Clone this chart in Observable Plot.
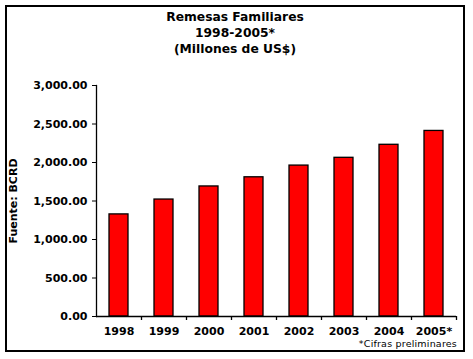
<!DOCTYPE html>
<html>
<head>
<meta charset="utf-8">
<script src="https://cdn.jsdelivr.net/npm/d3@7"></script>
<script src="https://cdn.jsdelivr.net/npm/@observablehq/plot@0.6"></script>
<style>
  html, body { margin: 0; padding: 0; background: #fff; }
  #wrap { position: relative; width: 473px; height: 359px; overflow: hidden; font-family: "DejaVu Sans", Verdana, sans-serif; }
  #frame { position: absolute; left: 5px; top: 5px; width: 456px; height: 343px; border: 2px solid #000; }
  #title { position: absolute; left: 5px; width: 460px; top: 9px; text-align: center; font-weight: bold; font-size: 12.3px; line-height: 16px; color: #000; }
  #note { position: absolute; right: 16px; top: 338px; font-size: 9.5px; color: #000; letter-spacing: 0.2px; }
  #chart { position: absolute; left: 0; top: 0; }
</style>
</head>
<body>
<div id="wrap">
  <div id="frame"></div>
  <div id="title"></div>
  <div id="note"></div>
  <div id="chart"></div>
</div>
<script>
const titleLines = ["Remesas Familiares", "1998-2005*", "(Millones de US$)"];
const years = ["1998", "1999", "2000", "2001", "2002", "2003", "2004", "2005*"];
const values = [1326, 1519, 1689, 1808, 1960, 2061, 2230, 2410];
const yTicks = [0, 500, 1000, 1500, 2000, 2500, 3000];
const yLabel = "Fuente: BCRD";
const note = "*Cifras preliminares";

document.getElementById("title").innerHTML = titleLines.join("<br>");
document.getElementById("note").textContent = note;

const data = years.map((y, i) => ({year: y, value: values[i]}));

const chart = Plot.plot({
  width: 473,
  height: 359,
  marginLeft: 96,
  marginRight: 17,
  marginTop: 85,
  marginBottom: 43,
  style: {fontFamily: "DejaVu Sans, Verdana, sans-serif", fontSize: "11px", fontWeight: "bold", background: "transparent", color: "#000"},
  x: {domain: years, paddingInner: 0.58, paddingOuter: 0.29, align: 0.5},
  y: {domain: [0, 3000]},
  marks: [
    Plot.barY(data, {x: "year", y: "value", fill: "#ff0000", stroke: "#000", strokeWidth: 1.3}),
    Plot.frame({anchor: "left", stroke: "#000", strokeWidth: 1.3}),
    Plot.ruleY([0], {stroke: "#000", strokeWidth: 1.3}),
    Plot.ruleX(years, {x: d => d, y1: 0, y2: 0, dx: 22.5, insetBottom: -4, stroke: "#000", strokeWidth: 1.3}),
    Plot.axisY(yTicks, {tickFormat: d3.format(",.2f"), tickSize: 4, tickPadding: 5, label: null, fontWeight: "bold", fontSize: 11, stroke: "#000"}),
    Plot.axisX({tickSize: 0, tickPadding: 11, label: null, fontWeight: "bold", fontSize: 11, style: {letterSpacing: "0.8px"}}),
    Plot.text([yLabel], {frameAnchor: "left", dx: -83, rotate: -90, textAnchor: "middle", fontWeight: "bold", fontSize: 11, fill: "#000"})
  ]
});
document.getElementById("chart").appendChild(chart);
</script>
</body>
</html>
